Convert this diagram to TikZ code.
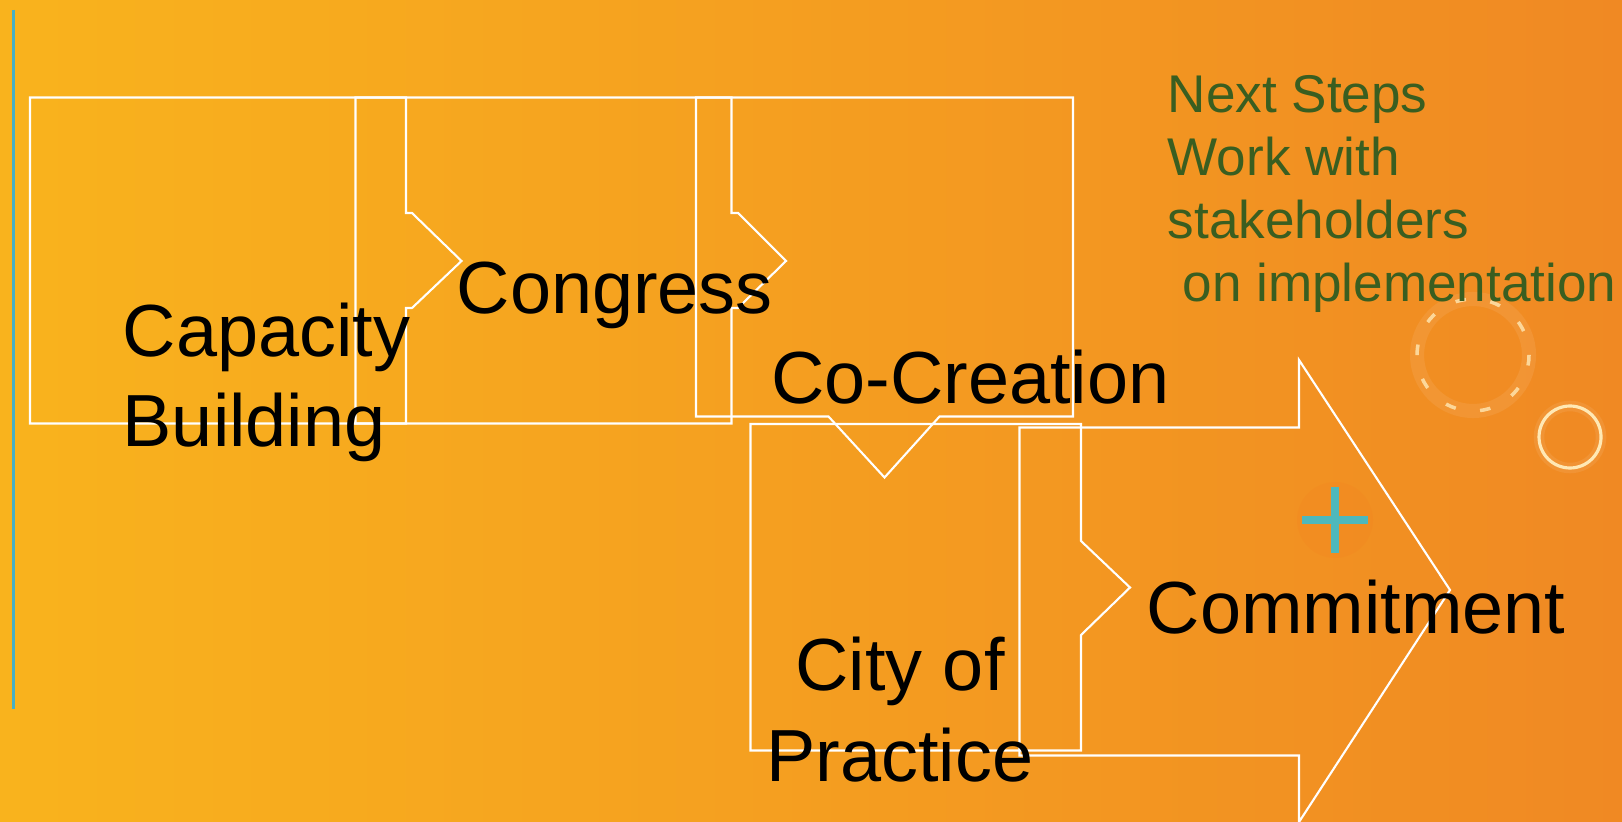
\documentclass[tikz,border=0pt]{standalone}
\usepackage{fontspec}
\setmainfont{Liberation Sans}
\definecolor{bgleft}{RGB}{249,179,29}
\definecolor{bgright}{RGB}{240,137,35}
\definecolor{stepsgreen}{RGB}{58,94,32}
\definecolor{sidebar}{RGB}{72,176,196}
\definecolor{plusblue}{RGB}{78,184,188}
\definecolor{ringcream}{RGB}{255,232,180}

\begin{document}
\begin{tikzpicture}[x=0.01cm, y=-0.01cm,
  outline/.style={white, line width=0.6pt, line join=miter},
  stagetext/.style={font=\fontsize{21}{25.6}\selectfont, text=black, inner sep=0pt},
  notetext/.style={font=\fontsize{15.1}{18}\selectfont, text=stepsgreen, inner sep=0pt, align=left},
  glow/.style={white, opacity=0.08}]
  \shade[left color=bgleft, right color=bgright] (0,0) rectangle (1622,822);
  \useasboundingbox (0,0) rectangle (1622,822);
  \draw[sidebar, line width=0.6pt] (13.5,10) -- (13.5,709);
  \draw[outline] (30,97.5) -- (406,97.5) -- (406,213) -- (412,213) -- (461.5,261) -- (412,308) -- (406,308) -- (406,423.5) -- (30,423.5) -- cycle;
  \draw[outline] (355.5,97.5) -- (731.5,97.5) -- (731.5,213) -- (738,213) -- (786,261) -- (738,308) -- (731.5,308) -- (731.5,423.5) -- (355.5,423.5) -- cycle;
  \draw[outline] (696,97.5) -- (1073,97.5) -- (1073,416.5) -- (939.5,416.5) -- (884.5,477.5) -- (828.5,416.5) -- (696,416.5) -- cycle;
  \draw[outline] (750.5,424) -- (1081,424) -- (1081,541) -- (1130,587.5) -- (1081,635) -- (1081,750.5) -- (750.5,750.5) -- cycle;
  \draw[outline] (1019.5,427.5) -- (1299,427.5) -- (1299,360) -- (1450,590) -- (1299,822) -- (1299,755.5) -- (1019.5,755.5) -- cycle;
  \draw[glow, line width=4pt] (1473,355) circle (56);
  \draw[ringcream, line width=1pt, dash pattern=on 3pt off 7pt, opacity=0.8] (1473,355) circle (56);
  \draw[glow, line width=3pt] (1570,437) circle (31);
  \draw[ringcream, line width=0.9pt] (1570,437) circle (31);
  \fill[bgright!85!red, opacity=0.12] (1335,520) circle (38);
  \draw[plusblue, line width=2.3pt] (1302,520) -- (1368,520) (1335,487) -- (1335,553);
  \node[stagetext, align=left, anchor=base west] (capacity) at (122,447) {Capacity\\Building};
  \node[stagetext, anchor=base west] (congress) at (456,313.5) {Congress};
  \node[stagetext, anchor=base west] (cocreation) at (770.5,403.5) {Co-Creation};
  \node[stagetext, align=center, anchor=base] (cityofpractice) at (900,781) {City of\\Practice};
  \node[stagetext, anchor=base west] (commitment) at (1146,633) {Commitment};
  \node[notetext, anchor=base west] (nextsteps) at (1167,302) {Next Steps\\Work with\\stakeholders\\\hspace*{0.28em}on implementation};
\end{tikzpicture}
\end{document}
